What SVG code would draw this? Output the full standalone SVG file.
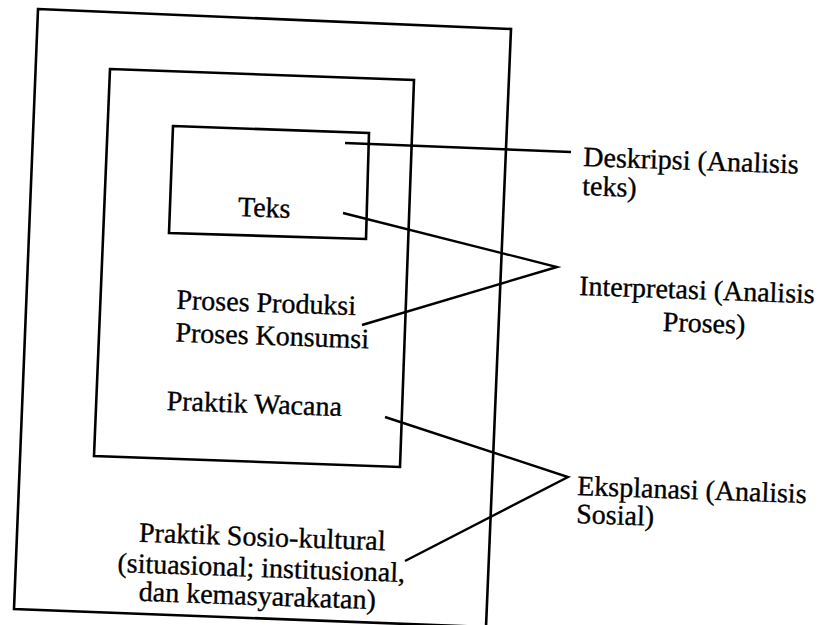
<svg xmlns="http://www.w3.org/2000/svg" width="826" height="625" viewBox="0 0 826 625">
<style>
.box{fill:none;stroke:#000;stroke-width:2.6;stroke-linejoin:miter}
.ln{fill:none;stroke:#000;stroke-width:2.4}
.t{font-family:'Liberation Serif','Times New Roman','DejaVu Serif',serif;font-size:28px;fill:#000;stroke:#000;stroke-width:0.35}
.c{text-anchor:middle}
</style>
<rect width="826" height="625" fill="#fff"/>
<g id="outer">
<polygon class="box" points="38,9 511,29 486,627 14,609"/>
<text class="t c" font-family="Liberation Serif" transform="rotate(2 262 546)" x="262" y="546">Praktik Sosio-kultural</text>
<text class="t c" font-family="Liberation Serif" transform="rotate(2 261 577)" x="261" y="577">(situasional; institusional,</text>
<text class="t c" font-family="Liberation Serif" transform="rotate(2 257 605)" x="257" y="605">dan kemasyarakatan)</text>
</g>
<g id="middle">
<polygon class="box" points="110,69 414,80 400,467 94,456"/>
<text class="t c" font-family="Liberation Serif" transform="rotate(2 266 312)" x="266" y="312">Proses Produksi</text>
<text class="t c" font-family="Liberation Serif" transform="rotate(2 272 345)" x="272" y="345">Proses Konsumsi</text>
<text class="t c" font-family="Liberation Serif" transform="rotate(2 254 413)" x="254" y="413">Praktik Wacana</text>
</g>
<g id="inner">
<polygon class="box" points="173,126 369,133 366,239 169,233"/>
<text class="t c" font-family="Liberation Serif" transform="rotate(2 264 217)" x="264" y="217">Teks</text>
</g>
<g id="deskripsi">
<text class="t" font-family="Liberation Serif" transform="rotate(2 583 166)" x="583" y="166">Deskripsi (Analisis</text>
<text class="t" font-family="Liberation Serif" transform="rotate(2 583 166)" x="583" y="195">teks)</text>
</g>
<g id="interpretasi">
<text class="t" font-family="Liberation Serif" transform="rotate(2 579 295)" x="579" y="295">Interpretasi (Analisis</text>
<text class="t c" font-family="Liberation Serif" transform="rotate(2 579 295)" x="705" y="328">Proses)</text>
</g>
<g id="eksplanasi">
<text class="t" font-family="Liberation Serif" transform="rotate(2 577 495)" x="577" y="495">Eksplanasi (Analisis</text>
<text class="t" font-family="Liberation Serif" transform="rotate(2 577 495)" x="577" y="523">Sosial)</text>
</g>
<g id="connectors">
<line class="ln" x1="345" y1="143" x2="571" y2="152"/>
<polyline class="ln" points="343,213 557,267 362,325"/>
<polyline class="ln" points="385,417 568,477 405,561"/>
</g>
</svg>
